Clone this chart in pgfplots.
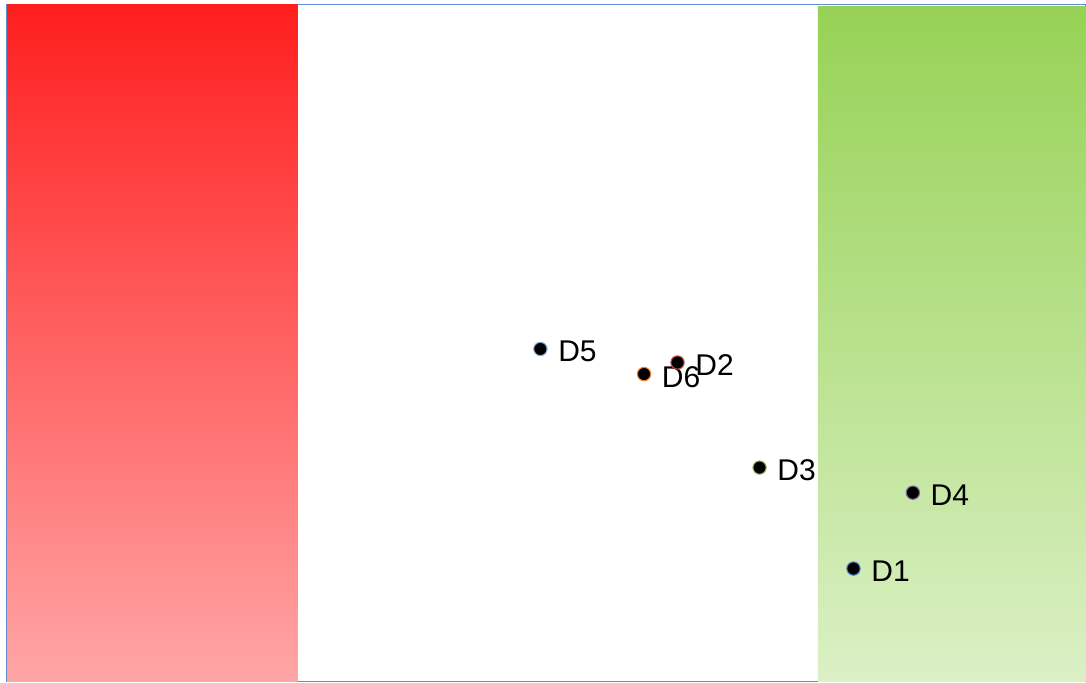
\documentclass[border=0pt]{standalone}
\usepackage{pgfplots}
\pgfplotsset{compat=1.18}
\usepackage{fontspec}
\setmainfont{Liberation Sans}

\definecolor{frameblue}{RGB}{95,140,210}
\definecolor{redtop}{RGB}{255,30,30}
\definecolor{redbot}{RGB}{255,166,166}
\definecolor{greentop}{RGB}{150,210,85}
\definecolor{greenbot}{RGB}{219,240,197}
\definecolor{cD1}{RGB}{79,129,189}
\definecolor{cD2}{RGB}{192,80,77}
\definecolor{cD3}{RGB}{155,187,89}
\definecolor{cD4}{RGB}{128,100,162}
\definecolor{cD5}{RGB}{140,170,215}
\definecolor{cD6}{RGB}{237,125,49}

\pgfplotsset{pt/.style={only marks, mark=*, mark size=5pt, mark options={fill=black, draw=#1, line width=0.8pt},
  nodes near coords, point meta=explicit symbolic,
  every node near coord/.style={anchor=west, inner sep=0pt, xshift=13pt, yshift=-2pt, font=\fontsize{22.5}{26}\selectfont, text=black}}}

\begin{document}
\begin{tikzpicture}
\begin{axis}[
    scale only axis,
    width=810pt, height=508.5pt,
    xmin=0, xmax=100, ymin=0, ymax=100,
    ticks=none,
    axis line style={frameblue, line width=0.6pt},
    clip=true,
]
% background bands
\addplot[draw=none, top color=redtop, bottom color=redbot] coordinates {(0.1,0) (27.0,0) (27.0,99.9) (0.1,99.9)} -- cycle;
\addplot[draw=none, top color=greentop, bottom color=greenbot] coordinates {(75.2,0) (100,0) (100,99.7) (75.2,99.7)} -- cycle;

% points
\addplot[pt=cD5] coordinates {(49.5,49.1) [D5]};
\addplot[pt=cD6] coordinates {(59.1,45.4) [D6]};
\addplot[pt=cD2] coordinates {(62.2,47.1) [D2]};
\addplot[pt=cD3] coordinates {(69.8,31.6) [D3]};
\addplot[pt=cD4] coordinates {(84.0,27.9) [D4]};
\addplot[pt=cD1] coordinates {(78.5,16.7) [D1]};
\end{axis}
\path (current axis.south west) ++(-4.5pt,0) (current axis.north east) ++(0,3pt);
\end{tikzpicture}
\end{document}
